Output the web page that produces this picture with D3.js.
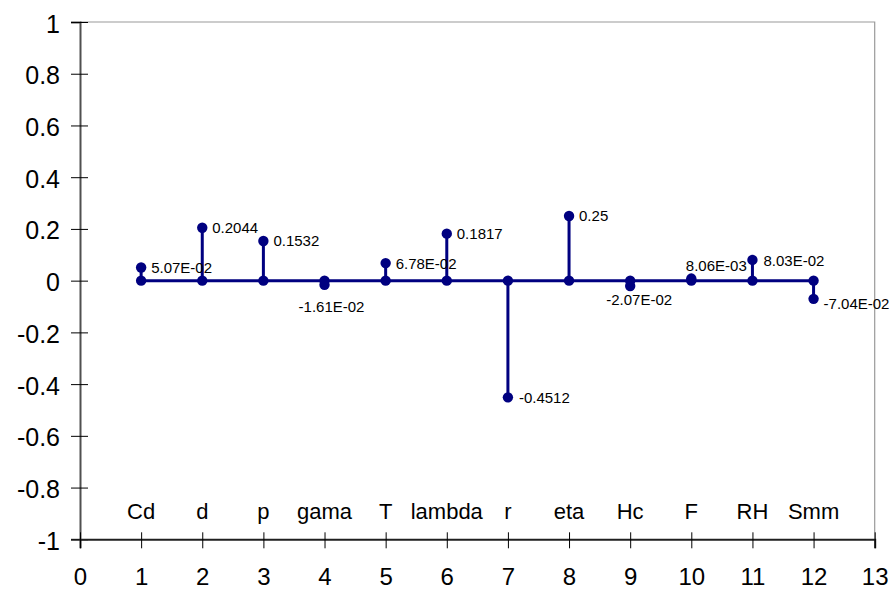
<!DOCTYPE html>
<html>
<head>
<meta charset="utf-8">
<script src="https://cdn.jsdelivr.net/npm/d3@7/dist/d3.min.js"></script>
<style>
  html, body { margin: 0; padding: 0; background: #fff; }
  svg { display: block; font-family: "Liberation Sans", Arial, sans-serif; }
</style>
</head>
<body>
<svg id="chart" width="893" height="591"></svg>
<script>
// Parameter names and their sensitivity coefficients
const categories = ["Cd", "d", "p", "gama", "T", "lambda", "r", "eta", "Hc", "F", "RH", "Smm"];
const values = [0.0507, 0.2044, 0.1532, -0.0161, 0.0678, 0.1817, -0.4512, 0.25, -0.0207, 0.00806, 0.0803, -0.0704];
const xTicks = [0, 1, 2, 3, 4, 5, 6, 7, 8, 9, 10, 11, 12, 13];
const yTicks = [1, 0.8, 0.6, 0.4, 0.2, 0, -0.2, -0.4, -0.6, -0.8, -1];
const categoryLabelLevel = -0.9;

// Value-label placement per point: [dx, dy, anchor]
const labelPlacement = [
  [10, 0, "start"], [10, 0, "start"], [10, 0, "start"], [7, 22, "middle"],
  [10, 0, "start"], [10, 0, "start"], [11, 0, "start"], [10, 0, "start"],
  [9, 14, "middle"], [25, -13, "middle"], [11, 1, "start"], [10, 5, "start"]
];

const navy = "#000080";
const svg = d3.select("#chart");

const x = d3.scaleLinear().domain([0, 13]).range([80, 874.7]);
const y = d3.scaleLinear().domain([-1, 1]).range([539.3, 22]);

// Plot frame (top and right edges)
svg.append("path")
  .attr("d", `M${x(0)},${y(1)}H${x(13)}V${y(-1)}`)
  .attr("fill", "none").attr("stroke", "#9a9a9a").attr("stroke-width", 1.2);

// Format values like a spreadsheet's General format
function fmt(v) {
  if (Math.abs(v) < 0.1) {
    const [m, e] = v.toExponential(2).split("e");
    const ex = parseInt(e, 10);
    return m + "E" + (ex < 0 ? "-" : "+") + String(Math.abs(ex)).padStart(2, "0");
  }
  return String(v);
}

// Y axis
const yAxis = d3.axisLeft(y).tickValues(yTicks).tickSize(9)
  .tickFormat(d => String(+d.toFixed(1)));
const gy = svg.append("g").attr("transform", `translate(${x(0)},0)`).call(yAxis);
gy.select(".domain").attr("stroke", "#505050").attr("stroke-width", 2);
gy.selectAll(".tick line").attr("x1", 8).attr("x2", -9).attr("stroke", "#000").attr("stroke-width", 1);
gy.selectAll(".tick text").attr("x", -20).attr("dy", "0.4em")
  .attr("font-size", 25).attr("fill", "#000")
  .attr("font-family", "'Liberation Sans', Arial, sans-serif");

// X axis
const xAxis = d3.axisBottom(x).tickValues(xTicks).tickSize(9).tickFormat(d => String(d));
const gx = svg.append("g").attr("transform", `translate(0,${y(-1)})`).call(xAxis);
gx.select(".domain").attr("stroke", "#202020").attr("stroke-width", 2);
gx.selectAll(".tick line").attr("y1", -7).attr("y2", 9).attr("stroke", "#000").attr("stroke-width", 1);
gx.selectAll(".tick text").attr("y", 46).attr("dy", null)
  .attr("font-size", 24).attr("fill", "#000")
  .attr("font-family", "'Liberation Sans', Arial, sans-serif");

// Category names along the lower part of the plot
svg.append("g").selectAll("text").data(categories).join("text")
  .attr("x", (d, i) => x(i + 1))
  .attr("y", y(categoryLabelLevel))
  .attr("dy", "0.26em")
  .attr("text-anchor", "middle")
  .attr("font-size", 22)
  .attr("fill", "#000")
  .text(d => d);

// Stem series: zero -> value -> zero for each parameter
const pts = [];
values.forEach((v, i) => {
  pts.push([i + 1, 0], [i + 1, v], [i + 1, 0]);
});
const line = d3.line().x(d => x(d[0])).y(d => y(d[1]));
svg.append("path")
  .datum(pts)
  .attr("d", line)
  .attr("fill", "none")
  .attr("stroke", navy)
  .attr("stroke-width", 3)
  .attr("stroke-linejoin", "round");

// Markers at base and tip
const markers = [];
values.forEach((v, i) => { markers.push([i + 1, 0], [i + 1, v]); });
svg.append("g").selectAll("circle").data(markers).join("circle")
  .attr("cx", d => x(d[0]))
  .attr("cy", d => y(d[1]))
  .attr("r", 5.2)
  .attr("fill", navy);

// Value labels
svg.append("g").selectAll("text").data(values).join("text")
  .attr("x", (d, i) => x(i + 1) + labelPlacement[i][0])
  .attr("y", (d, i) => y(d) + labelPlacement[i][1])
  .attr("dy", "0.36em")
  .attr("text-anchor", (d, i) => labelPlacement[i][2])
  .attr("font-size", 15)
  .attr("fill", "#000")
  .text(d => fmt(d));
</script>
</body>
</html>
